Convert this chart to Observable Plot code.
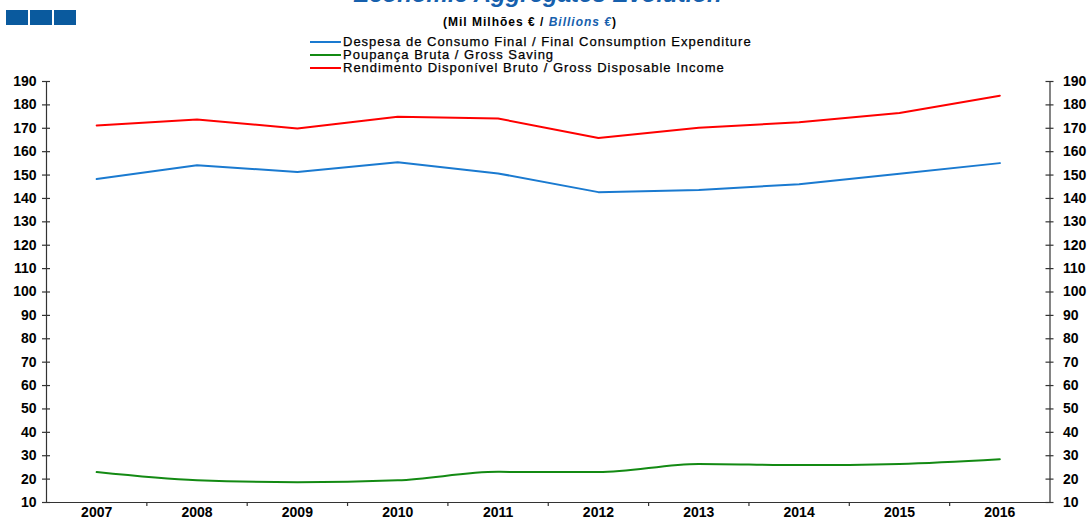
<!DOCTYPE html>
<html>
<head>
<meta charset="utf-8">
<script src="https://cdn.jsdelivr.net/npm/d3@7"></script>
<script src="https://cdn.jsdelivr.net/npm/@observablehq/plot@0.6"></script>
<style>
  html, body { margin: 0; padding: 0; background: #fff; }
  body { width: 1091px; height: 526px; position: relative; overflow: hidden; font-family: "Liberation Sans", Arial, sans-serif; }
  #chart { position: absolute; left: 0; top: 0; }
  .sq { position: absolute; top: 10px; width: 22px; height: 15px; background: #0a5a9e; }
  #title { position: absolute; left: 0; width: 1075px; text-align: center; top: -20px; font-size: 24px; font-weight: bold; font-style: italic; color: #1660ad; white-space: nowrap; }
  #subtitle { position: absolute; left: 443px; top: 15px; font-size: 12px; font-weight: bold; letter-spacing: 1px; color: #000; white-space: nowrap; }
  #subtitle i { color: #1660ad; }
  .leg { position: absolute; left: 310px; height: 13px; font-size: 13px; letter-spacing: 1px; color: #000; white-space: nowrap; -webkit-text-stroke: 0.25px #000; }
  .leg span.sw { display: inline-block; width: 31px; height: 2px; vertical-align: middle; margin-right: 2px; position: relative; top: -1px; }
</style>
</head>
<body>
<div class="sq" style="left:6px"></div>
<div class="sq" style="left:30px"></div>
<div class="sq" style="left:54px"></div>
<div id="title">Economic Aggregates Evolution</div>
<div id="subtitle">(Mil Milhões € / <i>Billions €</i>)</div>
<div id="legend"></div>
<div id="chart"></div>
<script>
const years = [2007, 2008, 2009, 2010, 2011, 2012, 2013, 2014, 2015, 2016];
const despesa = [148.3, 154.2, 151.3, 155.5, 150.7, 142.7, 143.6, 146.1, 150.6, 155.1];
const poupanca = [23.0, 19.5, 18.7, 19.5, 23.1, 23.0, 26.5, 26.0, 26.5, 28.5];
const rendimento = [171.2, 173.8, 169.9, 174.9, 174.2, 165.8, 170.2, 172.6, 176.5, 183.9];
const yTicks = [10, 20, 30, 40, 50, 60, 70, 80, 90, 100, 110, 120, 130, 140, 150, 160, 170, 180, 190];
const seriesNames = [
  "Despesa de Consumo Final / Final Consumption Expenditure",
  "Poupança Bruta / Gross Saving",
  "Rendimento Disponível Bruto / Gross Disposable Income"
];
const seriesColors = ["#1a7ad0", "#138a13", "#ff0000"];

const legend = document.getElementById("legend");
const legTops = [34, 47, 60];
seriesNames.forEach((n, i) => {
  const d = document.createElement("div");
  d.className = "leg";
  d.style.top = legTops[i] + "px";
  d.innerHTML = `<span class="sw" style="background:${seriesColors[i]}"></span>${n}`;
  legend.appendChild(d);
});

const xMin = years[0] - 0.5, xMax = years[years.length - 1] + 0.5;
const bounds = years.slice(1).map(y => y - 0.5);
const mk = (vals) => years.map((y, i) => ({year: y, v: vals[i]}));
const axisColor = "#333";

const plot = Plot.plot({
  width: 1091,
  height: 526,
  marginLeft: 46,
  marginRight: 41.5,
  marginTop: 81,
  marginBottom: 24,
  style: {fontFamily: "Liberation Sans, Arial, sans-serif", fontSize: "14px", fontWeight: "bold", color: "#000", background: "transparent"},
  x: {domain: [xMin, xMax], axis: null},
  y: {domain: [10, 190], axis: null},
  marks: [
    Plot.ruleX([xMin, xMax], {stroke: axisColor, strokeWidth: 1.2}),
    Plot.ruleY([10], {stroke: axisColor, strokeWidth: 1.2}),
    Plot.ruleY(yTicks, {y: d => d, x1: xMin, x2: xMin, insetLeft: -4, insetRight: -4, stroke: axisColor, strokeWidth: 1.2}),
    Plot.ruleY(yTicks, {y: d => d, x1: xMax, x2: xMax, insetLeft: -4, insetRight: -4, stroke: axisColor, strokeWidth: 1.2}),
    Plot.ruleX(bounds, {x: d => d, y1: 10, y2: 10, insetBottom: -4, stroke: axisColor, strokeWidth: 1.2}),
    Plot.text(yTicks, {y: d => d, frameAnchor: "left", dx: -10, textAnchor: "end", text: d => String(d), fill: "#000"}),
    Plot.text(yTicks, {y: d => d, frameAnchor: "right", dx: 13, textAnchor: "start", text: d => String(d), fill: "#000"}),
    Plot.text(years, {x: d => d, frameAnchor: "bottom", dy: 14, text: d => String(d), fill: "#000"}),
    Plot.line(mk(despesa), {x: "year", y: "v", stroke: seriesColors[0], strokeWidth: 2}),
    Plot.line(mk(poupanca), {x: "year", y: "v", stroke: seriesColors[1], strokeWidth: 2, curve: "monotone-x"}),
    Plot.line(mk(rendimento), {x: "year", y: "v", stroke: seriesColors[2], strokeWidth: 2})
  ]
});
document.getElementById("chart").appendChild(plot);
</script>
</body>
</html>
